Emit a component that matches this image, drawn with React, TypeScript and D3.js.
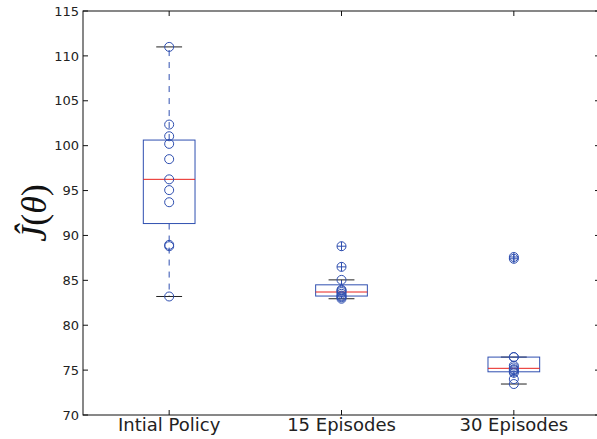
import React from "react";
import * as d3 from "d3";

const categories = ["Intial Policy", "15 Episodes", "30 Episodes"];
const initialPolicy = [111.0, 102.35, 101.05, 100.2, 98.5, 96.25, 95.05, 93.7, 88.95, 88.8, 83.2];
const episodes15 = [82.95, 83.1, 83.2, 83.3, 83.5, 83.7, 83.85, 83.95, 85.05, 86.5, 88.8];
const episodes30 = [73.45, 74.0, 74.7, 74.85, 75.0, 75.1, 75.3, 75.5, 76.45, 76.45, 87.4, 87.6];
const seriesValues = [initialPolicy, episodes15, episodes30];
const yTicks = [70, 75, 80, 85, 90, 95, 100, 105, 110, 115];

const W = 597, H = 439;
const left = 83, right = 600, top = 11, bottom = 415;
const BLUE = "#2f4fb0";
const RED = "#e8221e";

function stats(vals: number[]) {
  const s = [...vals].sort((a, b) => a - b);
  const q1 = d3.quantile(s, 0.25)!;
  const med = d3.quantile(s, 0.5)!;
  const q3 = d3.quantile(s, 0.75)!;
  const iqr = q3 - q1;
  const lo = q1 - 1.5 * iqr, hi = q3 + 1.5 * iqr;
  const inside = s.filter((v) => v >= lo && v <= hi);
  const wLo = d3.min(inside)!, wHi = d3.max(inside)!;
  const fliers = s.filter((v) => v < lo || v > hi);
  return { q1, med, q3, wLo, wHi, fliers };
}

export default function App() {
  const x = d3.scaleLinear().domain([0.5, 3.5]).range([left, right]);
  const y = d3.scaleLinear().domain([70, 115]).range([bottom, top]);
  const boxW = x(1.3) - x(1);
  const capW = boxW / 2;
  const tick = 5;
  return (
    <svg width={W} height={H} style={{ position: "fixed", left: 0, top: 0, background: "#fff" }}
      fontFamily="DejaVu Sans">
      <rect x={0} y={0} width={W} height={H} fill="#fff" />
      {seriesValues.map((vals, i) => {
        const cx = x(i + 1);
        const st = stats(vals);
        return (
          <g key={i}>
            <line x1={cx} x2={cx} y1={y(st.q1)} y2={y(st.wLo)} stroke={BLUE} strokeWidth={1} strokeDasharray="6,6" />
            <line x1={cx} x2={cx} y1={y(st.q3)} y2={y(st.wHi)} stroke={BLUE} strokeWidth={1} strokeDasharray="6,6" />
            <line x1={cx - capW / 2} x2={cx + capW / 2} y1={y(st.wLo)} y2={y(st.wLo)} stroke="#222" strokeWidth={1} />
            <line x1={cx - capW / 2} x2={cx + capW / 2} y1={y(st.wHi)} y2={y(st.wHi)} stroke="#222" strokeWidth={1} />
            <rect x={cx - boxW / 2} y={y(st.q3)} width={boxW} height={y(st.q1) - y(st.q3)} fill="none" stroke={BLUE} strokeWidth={1} />
            <line x1={cx - boxW / 2} x2={cx + boxW / 2} y1={y(st.med)} y2={y(st.med)} stroke={RED} strokeWidth={1} />
            {st.fliers.map((v, k) => (
              <g key={"f" + k} stroke={BLUE} strokeWidth={1}>
                <line x1={cx - 4.5} x2={cx + 4.5} y1={y(v)} y2={y(v)} />
                <line x1={cx} x2={cx} y1={y(v) - 4.5} y2={y(v) + 4.5} />
              </g>
            ))}
            {vals.map((v, k) => (
              <circle key={"c" + k} cx={cx} cy={y(v)} r={4.5} fill="none" stroke={BLUE} strokeWidth={1} />
            ))}
          </g>
        );
      })}
      <rect x={left} y={top} width={right - left} height={bottom - top} fill="none" stroke="#111" strokeWidth={1} />
      {yTicks.map((t) => (
        <g key={t}>
          <line x1={left} x2={left + tick} y1={y(t)} y2={y(t)} stroke="#111" />
          <line x1={right - tick} x2={right} y1={y(t)} y2={y(t)} stroke="#111" />
          <text x={left - 4} y={y(t)} dy="0.36em" textAnchor="end" fontSize={13} fill="#222">{t}</text>
        </g>
      ))}
      {categories.map((c, i) => (
        <g key={c}>
          <line x1={x(i + 1)} x2={x(i + 1)} y1={bottom} y2={bottom - tick} stroke="#111" />
          <line x1={x(i + 1)} x2={x(i + 1)} y1={top} y2={top + tick} stroke="#111" />
          <text x={x(i + 1)} y={431} textAnchor="middle" fontSize={18} fill="#222">{c}</text>
        </g>
      ))}
      <text transform={`translate(46,${(top + bottom) / 2}) rotate(-90)`} textAnchor="middle"
        fontFamily="Liberation Serif" fontSize={36} fill="#111">
        <tspan fontStyle="italic">Ĵ</tspan>
        <tspan>(</tspan>
        <tspan fontStyle="italic">θ</tspan>
        <tspan>)</tspan>
      </text>
    </svg>
  );
}
